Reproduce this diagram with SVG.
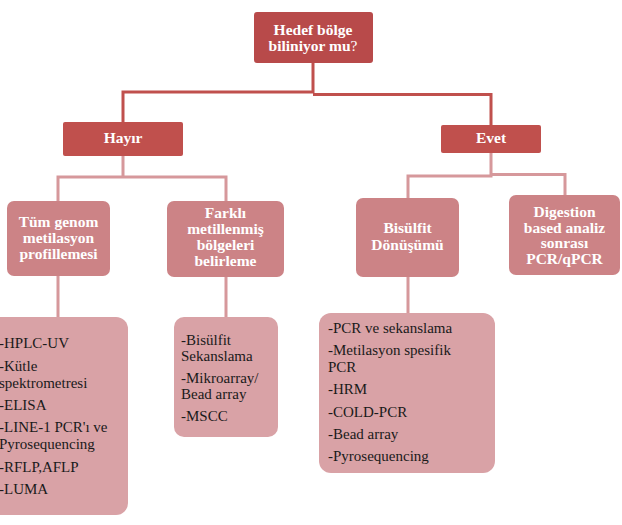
<svg xmlns="http://www.w3.org/2000/svg" width="622" height="525" viewBox="0 0 622 525">
<style>
.b{font-family:"Liberation Serif","Times New Roman",serif;font-weight:bold;font-size:15.5px;fill:#fff;text-anchor:middle}
.t{font-family:"Liberation Serif","Times New Roman",serif;font-size:15px;fill:#1a1a1a}
.c1{fill:none;stroke:#c0504d;stroke-width:3}
.c2{fill:none;stroke:#d6989b;stroke-width:3}
.d{fill:#c0504d}
.m{fill:#cc8386}
.l{fill:#d9a2a6}
</style>
<rect width="622" height="525" fill="#fff"/>
<g id="connectors">
<path class="c1" d="M123,122 V92 H313 V63 M313,94.5 H491 V125"/>
<path class="c2" d="M123,156 V177 M58,201 V177 H226 V201 M491,153 V176 M408,198 V176 H491 V174.5 H565 V195"/>
<path class="c2" d="M58,276 V317 M226,277 V317 M408,277 V313"/>
</g>
<g id="n-root">
<rect x="254" y="12" width="119" height="51" rx="3" fill="#b84a4a"/>
<text class="b" x="313" y="35">Hedef bölge</text>
<text class="b" x="313" y="50.5">biliniyor mu<tspan font-weight="normal">?</tspan></text>
</g>
<g id="n-hayir">
<rect class="d" x="63" y="122" width="120" height="34" rx="2"/>
<text class="b" x="123" y="143">Hayır</text>
</g>
<g id="n-evet">
<rect class="d" x="441" y="125" width="100" height="28" rx="2"/>
<text class="b" x="491" y="143">Evet</text>
</g>
<g id="n-tum">
<rect class="m" x="7" y="201" width="103" height="75" rx="7"/>
<text class="b" x="58.5" y="226.5">Tüm genom</text>
<text class="b" x="58.5" y="242.5">metilasyon</text>
<text class="b" x="58.5" y="258.5">profillemesi</text>
</g>
<g id="n-farkli">
<rect class="m" x="167" y="201" width="117" height="76" rx="7"/>
<text class="b" x="225.5" y="218">Farklı</text>
<text class="b" x="225.5" y="234">metillenmiş</text>
<text class="b" x="225.5" y="250">bölgeleri</text>
<text class="b" x="225.5" y="266">belirleme</text>
</g>
<g id="n-bisulfit">
<rect class="m" x="356" y="198" width="103" height="79" rx="7"/>
<text class="b" x="407.5" y="233">Bisülfit</text>
<text class="b" x="407.5" y="250">Dönüşümü</text>
</g>
<g id="n-digestion">
<rect class="m" x="509" y="195" width="111" height="80" rx="7"/>
<text class="b" x="564.5" y="217">Digestion</text>
<text class="b" x="564.5" y="232.5">based analiz</text>
<text class="b" x="564.5" y="248">sonrası</text>
<text class="b" x="564.5" y="264">PCR/qPCR</text>
</g>
<g id="n-list1">
<rect class="l" x="-14" y="317" width="142" height="198" rx="12"/>
<text class="t" x="-1" y="348">-HPLC-UV</text>
<text class="t" x="-1" y="371">-Kütle</text>
<text class="t" x="-1" y="387.5">spektrometresi</text>
<text class="t" x="-1" y="410">-ELISA</text>
<text class="t" x="-1" y="432">-LINE-1 PCR'ı ve</text>
<text class="t" x="-1" y="448.5">Pyrosequencing</text>
<text class="t" x="-1" y="471.5">-RFLP,AFLP</text>
<text class="t" x="-1" y="494">-LUMA</text>
</g>
<g id="n-list2">
<rect class="l" x="174" y="317" width="104" height="120" rx="10"/>
<text class="t" x="181" y="344.5">-Bisülfit</text>
<text class="t" x="181" y="361">Sekanslama</text>
<text class="t" x="181" y="382.5">-Mikroarray/</text>
<text class="t" x="181" y="399">Bead array</text>
<text class="t" x="181" y="421">-MSCC</text>
</g>
<g id="n-list3">
<rect class="l" x="319" y="313" width="176" height="160" rx="12"/>
<text class="t" x="328" y="333">-PCR ve sekanslama</text>
<text class="t" x="328" y="355">-Metilasyon spesifik</text>
<text class="t" x="328" y="371.5">PCR</text>
<text class="t" x="328" y="394">-HRM</text>
<text class="t" x="328" y="416.5">-COLD-PCR</text>
<text class="t" x="328" y="438.5">-Bead array</text>
<text class="t" x="328" y="460.5">-Pyrosequencing</text>
</g>
</svg>
